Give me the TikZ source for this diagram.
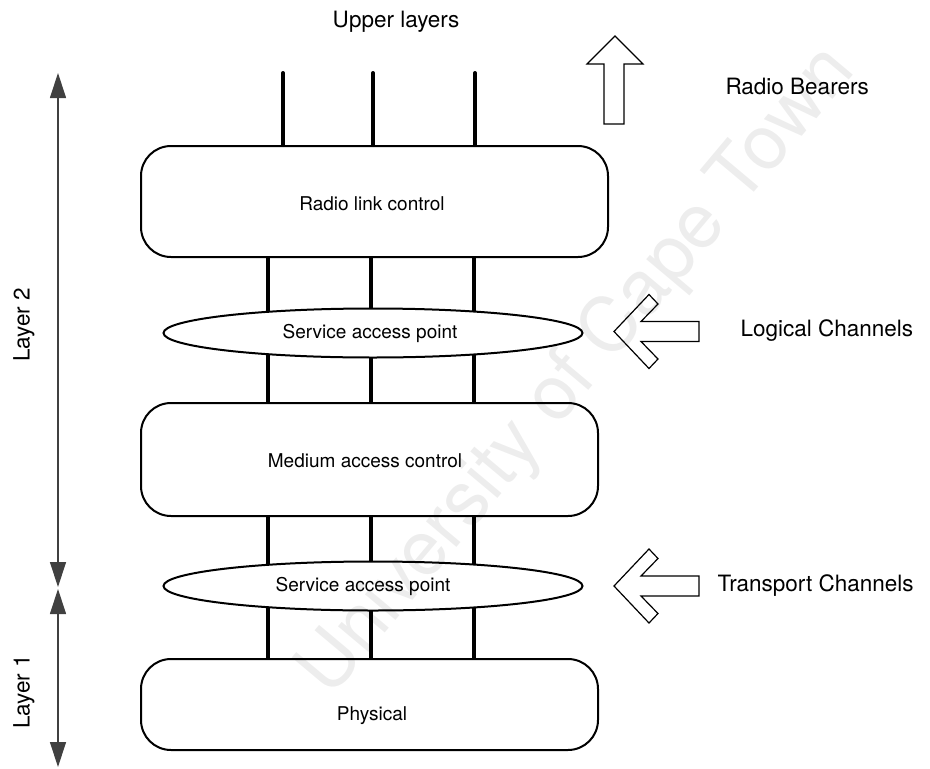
\documentclass[tikz,border=0pt]{standalone}
\usepackage{fontspec}
\setmainfont{TeX Gyre Heros}
\usetikzlibrary{arrows.meta,shapes.geometric,backgrounds}
\begin{document}
\begin{tikzpicture}[x=1pt,y=-1pt,
  layerbox/.style={draw, line width=2pt, rounded corners=30pt, inner sep=0pt},
  sapell/.style={draw, ellipse, line width=2pt, fill=white, minimum width=419pt, minimum height=49pt, inner sep=0pt},
  bus/.style={line width=4pt},
  innertext/.style={font=\fontsize{19}{22}\selectfont},
  outertext/.style={font=\fontsize{22.5}{26}\selectfont},
  layerarrow/.style={line width=1.2pt, draw=black!75, {Triangle[length=25pt,width=16pt]}-{Triangle[length=25pt,width=16pt]}},
  blockarrow/.style={draw, line width=1.2pt, line join=miter},
]
\useasboundingbox (0,0) rectangle (930,769);

% boxes
\node[layerbox, minimum width=467pt, minimum height=111pt] (rlc) at (374.5,201.5) {};
\node[layerbox, minimum width=457pt, minimum height=113pt] (mac) at (369.5,459.5) {};
\node[layerbox, minimum width=457pt, minimum height=91pt] (phy) at (369.5,704.5) {};
\node[sapell] (sap1) at (373,333) {};
\node[sapell] (sap2) at (373,586) {};

% texts
\node[innertext] (rlct) at (372,204) {Radio link control};
\node[innertext] (sap1t) at (370,333) {Service access point};
\node[innertext] (mact) at (365,461) {Medium access control};
\node[innertext] (sap2t) at (363,586) {Service access point};
\node[innertext] (phyt) at (372,716) {Physical};

\node[outertext] (upper) at (396,22) {Upper layers};
\node[outertext, anchor=west] (rb) at (722,86) {Radio Bearers};
\node[outertext, anchor=west] (lc) at (737,331) {Logical Channels};
\node[outertext, anchor=west] (tc) at (714,586) {Transport Channels};
\node[outertext, rotate=90] (l2) at (24,325) {Layer 2};
\node[outertext, rotate=90] (l1) at (24,692) {Layer 1};

% bus lines
\coordinate (c1) at (268,0);
\coordinate (c2) at (371,0);
\coordinate (c3) at (474,0);
\coordinate (u1) at (283,73);
\coordinate (u2) at (373,73);
\coordinate (u3) at (475,73);
\begin{scope}[on background layer]
  \foreach \c in {u1,u2,u3}{
    \draw[bus, line cap=round] (\c) -- (\c |- rlc.north);
  }
  \foreach \c in {c1,c2,c3}{
    \draw[bus] (rlc.south -| \c) -- (sap1.center -| \c);
    \draw[bus] (sap1.center -| \c) -- (mac.north -| \c);
    \draw[bus] (mac.south -| \c) -- (sap2.center -| \c);
    \draw[bus] (sap2.center -| \c) -- (phy.north -| \c);
  }
\end{scope}

% layer arrows
\coordinate (l2top) at (58,73);
\coordinate (l2bot) at (58,587);
\coordinate (l1top) at (58,589);
\coordinate (l1bot) at (58,767);
\draw[layerarrow] (l2top) -- (l2bot);
\draw[layerarrow] (l1top) -- (l1bot);

% block arrows
\draw[blockarrow] (615,36) -- (643,64) -- (624,64) -- (624,124) -- (604,124) -- (604,64) -- (587,64) -- cycle;
\draw[blockarrow] (614,331.5) -- (649,294.5) -- (658,304) -- (641,321.5) -- (699,321.5) -- (699,341.5) -- (641,341.5) -- (658,359) -- (649,368.5) -- cycle;
\draw[blockarrow, shift={(0,254.5)}] (614,331.5) -- (649,294.5) -- (658,304) -- (641,321.5) -- (699,321.5) -- (699,341.5) -- (641,341.5) -- (658,359) -- (649,368.5) -- cycle;

% watermark
\node[font=\fontsize{76}{84}\selectfont, text=black, text opacity=0.07, rotate=50, inner sep=0pt] (wm) at (578,372) {University of Cape Town};
\end{tikzpicture}
\end{document}
